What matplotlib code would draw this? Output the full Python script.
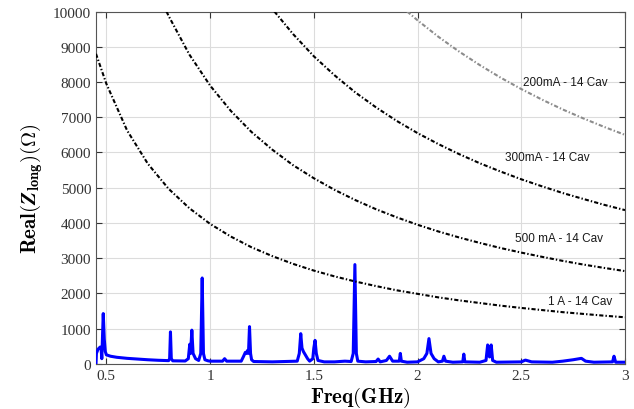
import matplotlib
matplotlib.use("Agg")
import matplotlib.pyplot as plt

plt.rcParams['mathtext.fontset'] = 'cm'
plt.rcParams['lines.scale_dashes'] = False

# ---- impedance spectrum ----
imp_freq = [0.45, 0.452, 0.46, 0.47, 0.475, 0.478, 0.481, 0.485, 0.49, 0.495, 0.50, 0.52, 0.55,
            0.60, 0.65, 0.70, 0.75, 0.80, 0.805, 0.809, 0.813, 0.82, 0.88, 0.895, 0.902, 0.906,
            0.912, 0.918, 0.93, 0.945, 0.955, 0.962, 0.968, 0.975, 0.99, 1.0, 1.06, 1.07, 1.08,
            1.15, 1.16, 1.17, 1.175, 1.18, 1.185, 1.19, 1.195, 1.20, 1.21, 1.30, 1.42, 1.43,
            1.437, 1.443, 1.45, 1.46, 1.47, 1.48, 1.495, 1.50, 1.506, 1.512, 1.52, 1.55, 1.60,
            1.65, 1.68, 1.69, 1.698, 1.705, 1.712, 1.75, 1.80, 1.81, 1.82, 1.85, 1.865, 1.88,
            1.912, 1.917, 1.922, 1.95, 2.0, 2.03, 2.045, 2.055, 2.065, 2.08, 2.10, 2.12, 2.127,
            2.135, 2.17, 2.218, 2.223, 2.228, 2.30, 2.33, 2.338, 2.347, 2.355, 2.362, 2.38,
            2.50, 2.52, 2.55, 2.65, 2.70, 2.75, 2.79, 2.81, 2.85, 2.94, 2.947, 2.955, 3.0]
imp_vals = [0, 300, 420, 480, 420, 150, 700, 1430, 700, 350, 260, 220, 190,
            160, 140, 120, 105, 95, 150, 910, 150, 90, 85, 150, 560, 300,
            960, 300, 150, 100, 300, 2440, 300, 120, 90, 80, 80, 150, 80,
            80, 200, 330, 300, 380, 300, 1060, 300, 120, 70, 60, 80, 300,
            860, 450, 350, 250, 150, 80, 150, 450, 670, 300, 100, 60, 60,
            80, 70, 300, 2820, 300, 80, 60, 70, 140, 60, 100, 220, 80,
            80, 300, 80, 50, 60, 150, 300, 720, 300, 150, 60, 80, 220,
            80, 50, 60, 280, 60, 50, 100, 540, 200, 540, 100, 50,
            60, 110, 60, 50, 80, 120, 160, 80, 50, 60, 220, 50, 50]

# ---- threshold curves ----
th1a_f = [0.45, 0.5, 0.6, 0.7, 0.8, 0.9, 1.0, 1.1, 1.2, 1.3, 1.4, 1.5, 1.6, 1.7, 1.8, 1.9,
          2.0, 2.1, 2.2, 2.3, 2.4, 2.5, 2.6, 2.7, 2.8, 2.9, 3.0]
th1a_v = [8800, 7950, 6625, 5680, 4970, 4420, 3975, 3615, 3310, 3060, 2840, 2650, 2485, 2340,
          2210, 2090, 1990, 1890, 1805, 1730, 1655, 1590, 1530, 1470, 1420, 1370, 1325]
th500_f = [0.79, 0.8, 0.9, 1.0, 1.1, 1.2, 1.3, 1.4, 1.5, 1.6, 1.7, 1.8, 1.9, 2.0, 2.1, 2.2,
           2.3, 2.4, 2.5, 2.6, 2.7, 2.8, 2.9, 3.0]
th500_v = [10000, 9875, 8780, 7900, 7180, 6580, 6080, 5640, 5270, 4940, 4650, 4390, 4160, 3950,
           3760, 3590, 3435, 3290, 3160, 3040, 2925, 2820, 2725, 2635]
th300_f = [1.31, 1.4, 1.5, 1.6, 1.7, 1.8, 1.9, 2.0, 2.1, 2.2, 2.3, 2.4, 2.5, 2.6, 2.7, 2.8,
           2.9, 3.0]
th300_v = [10000, 9360, 8730, 8190, 7705, 7280, 6895, 6550, 6240, 5955, 5695, 5460, 5240, 5040,
           4850, 4680, 4515, 4365]
th200_f = [1.95, 2.0, 2.1, 2.2, 2.3, 2.4, 2.5, 2.6, 2.7, 2.8, 2.9, 3.0]
th200_v = [10000, 9750, 9285, 8865, 8480, 8125, 7800, 7500, 7220, 6965, 6725, 6500]

labels = ["200mA - 14 Cav", "300mA - 14 Cav", "500 mA - 14 Cav", "1 A - 14 Cav"]
label_pos = [(2.51, 8000), (2.42, 5870), (2.47, 3570), (2.63, 1780)]

x_ticks = [0.5, 1, 1.5, 2, 2.5, 3]
x_ticklabels = ["0.5", "1", "1.5", "2", "2.5", "3"]
y_ticks = list(range(0, 10001, 1000))

fig = plt.figure(figsize=(6.34, 4.10), dpi=100)
ax = fig.add_axes([0.1514, 0.1098, 0.8344, 0.8597])

ax.grid(True, color='#dcdcdc', linewidth=0.8)
ax.set_axisbelow(True)

ax.plot(imp_freq, imp_vals, color='#0000ff', linewidth=2.2, zorder=3)

dd = (3.0, 1.5, 1.0, 1.5)
ax.plot(th1a_f, th1a_v, color='black', linewidth=1.5, dashes=dd, zorder=4)
ax.plot(th500_f, th500_v, color='black', linewidth=1.5, dashes=dd, zorder=4)
ax.plot(th300_f, th300_v, color='black', linewidth=1.5, dashes=dd, zorder=4)
ax.plot(th200_f, th200_v, color='#8c8c8c', linewidth=1.5, dashes=dd, zorder=4)

for lab, (xx, yy) in zip(labels, label_pos):
    ax.text(xx, yy, lab, fontsize=8.5, family='Liberation Sans', va='center', ha='left',
            color='#1a1a1a')

ax.set_xlim(0.45, 3.0)
ax.set_ylim(0, 10000)
ax.set_xticks(x_ticks)
ax.set_xticklabels(x_ticklabels)
ax.set_yticks(y_ticks)
ax.tick_params(direction='in', top=True, right=True, length=4, width=0.8,
               labelsize=11, colors='#333333', labelcolor='#333333')
for lab in ax.get_xticklabels() + ax.get_yticklabels():
    lab.set_family('Liberation Serif')
for s in ax.spines.values():
    s.set_color('#555555')
    s.set_linewidth(0.8)

ax.set_xlabel(r'$\mathbf{Freq(GHz)}$', fontsize=15, labelpad=2)
ax.set_ylabel(r'$\mathbf{Real(}\boldsymbol{Z}_{\mathbf{long}}\mathbf{)(}\boldsymbol{\Omega}\mathbf{)}$',
              fontsize=15, labelpad=6)

fig.savefig('out.png', dpi=100)
